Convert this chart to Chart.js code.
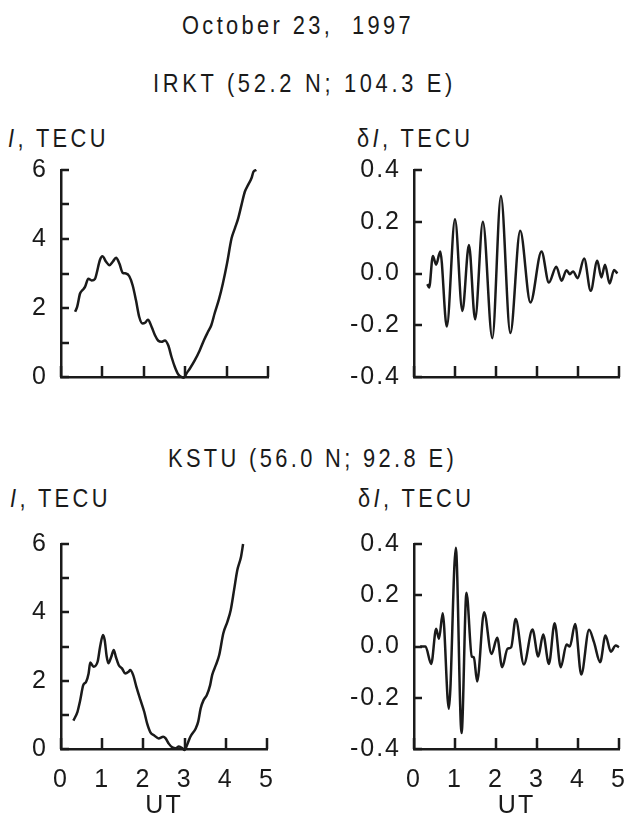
<!DOCTYPE html>
<html>
<head>
<meta charset="utf-8">
<script src="https://cdn.jsdelivr.net/npm/chart.js@4.4.0/dist/chart.umd.min.js"></script>
<style>
  body { margin: 0; background: #fff; }
  #page { position: relative; width: 624px; height: 817px; overflow: hidden;
          font-family: 'Liberation Sans', Arial, sans-serif; color: #1a1a1a; }
  .txt { position: absolute; font-size: 26px; line-height: 26px; letter-spacing: 4px; white-space: pre;
         transform: scaleX(0.84); transform-origin: 0 0; }
  .panel { position: absolute; }
  canvas { display: block; }
</style>
</head>
<body>
<div id="page">
  <div class="txt" style="left:182px; top:12px">October 23,  1997</div>
  <div class="txt" style="left:153px; top:70px; letter-spacing: 4.4px">IRKT (52.2 N; 104.3 E)</div>
  <div class="txt" style="left:8px; top:125px"><i>I</i>, TECU</div>
  <div class="txt" style="left:357px; top:125px">&delta;<i>I</i>, TECU</div>
  <div class="txt" style="left:168px; top:445px">KSTU (56.0 N; 92.8 E)</div>
  <div class="txt" style="left:10px; top:485px"><i>I</i>, TECU</div>
  <div class="txt" style="left:358px; top:485px">&delta;<i>I</i>, TECU</div>

  <div class="panel" style="left:0px; top:150px"><canvas id="irktTec" width="300" height="250"></canvas></div>
  <div class="panel" style="left:312px; top:150px"><canvas id="irktDelta" width="312" height="250"></canvas></div>
  <div class="panel" style="left:0px; top:520px"><canvas id="kstuTec" width="300" height="297"></canvas></div>
  <div class="panel" style="left:312px; top:520px"><canvas id="kstuDelta" width="312" height="297"></canvas></div>
</div>
<script>
// tick labels
const utLabels = ['0', '1', '2', '3', '4', '5'];
const tecLabels = ['0', '2', '4', '6'];
const deltaLabels = ['-0.4', '-0.2', '0.0', '0.2', '0.4'];

// IRKT, total electron content I
const irktUt = [0.34, 0.39, 0.46, 0.52, 0.58, 0.66, 0.74, 0.82, 0.86, 0.94, 1.0, 1.09, 1.17, 1.25, 1.33,
  1.41, 1.49, 1.57, 1.65, 1.73, 1.81, 1.89, 1.97, 2.03, 2.1, 2.19, 2.27, 2.35, 2.43, 2.51, 2.59, 2.67,
  2.75, 2.83, 2.91, 2.97, 3.03, 3.11, 3.23, 3.35, 3.45, 3.55, 3.63, 3.71, 3.82, 3.91, 4.01, 4.12, 4.2,
  4.28, 4.36, 4.44, 4.52, 4.6, 4.65, 4.72];
const irktTec = [1.89, 2.03, 2.42, 2.52, 2.61, 2.85, 2.8, 2.84, 3.0, 3.39, 3.5, 3.34, 3.24, 3.34, 3.46,
  3.29, 3.02, 3.0, 2.92, 2.66, 2.23, 1.74, 1.55, 1.57, 1.66, 1.45, 1.21, 1.05, 1.02, 1.06, 0.92, 0.58,
  0.29, 0.08, 0.0, -0.02, 0.1, 0.24, 0.48, 0.77, 1.06, 1.31, 1.5, 1.84, 2.27, 2.71, 3.29, 4.02, 4.31,
  4.6, 4.99, 5.37, 5.57, 5.76, 5.95, 6.0];

// IRKT, filtered variations dI
const irktDUt = [0.325, 0.37, 0.46, 0.54, 0.64, 0.8, 1.0, 1.18, 1.34, 1.49, 1.68, 1.91, 2.12, 2.35, 2.59,
  2.84, 3.11, 3.29, 3.47, 3.6, 3.72, 3.8, 3.88, 3.99, 4.15, 4.31, 4.47, 4.57, 4.66, 4.77, 4.88, 4.96];
const irktDelta = [-0.041, -0.054, 0.068, 0.034, 0.085, -0.205, 0.21, -0.145, 0.11, -0.177, 0.2, -0.25,
  0.3, -0.23, 0.165, -0.112, 0.085, -0.035, 0.026, -0.028, 0.013, -0.003, 0.008, -0.018, 0.058, -0.067,
  0.049, -0.015, 0.034, -0.039, 0.014, 0.0];

// KSTU, total electron content I
const kstuUt = [0.3, 0.4, 0.46, 0.54, 0.61, 0.67, 0.71, 0.79, 0.89, 0.95, 1.02, 1.06, 1.11, 1.15, 1.22,
  1.28, 1.33, 1.4, 1.48, 1.56, 1.64, 1.68, 1.75, 1.83, 1.93, 2.02, 2.09, 2.17, 2.27, 2.37, 2.48, 2.54,
  2.62, 2.7, 2.78, 2.86, 2.94, 3.0, 3.06, 3.14, 3.27, 3.33, 3.39, 3.46, 3.54, 3.62, 3.67, 3.76, 3.84,
  3.94, 4.04, 4.12, 4.2, 4.28, 4.37, 4.42];
const kstuTec = [0.83, 1.09, 1.39, 1.87, 1.97, 2.21, 2.53, 2.41, 2.56, 3.0, 3.34, 3.19, 2.7, 2.51, 2.7,
  2.9, 2.7, 2.46, 2.36, 2.21, 2.26, 2.31, 2.17, 1.82, 1.43, 1.09, 0.75, 0.49, 0.39, 0.31, 0.36, 0.31,
  0.15, 0.05, 0.02, 0.07, 0.03, -0.03, 0.12, 0.36, 0.6, 0.8, 1.19, 1.43, 1.58, 1.87, 2.17, 2.46, 2.75,
  3.39, 3.73, 4.07, 4.65, 5.24, 5.63, 6.0];

// KSTU, filtered variations dI
const kstuDUt = [0.15, 0.28, 0.42, 0.54, 0.61, 0.7, 0.85, 1.02, 1.16, 1.28, 1.41, 1.46, 1.54, 1.71, 1.89,
  2.03, 2.15, 2.28, 2.37, 2.48, 2.68, 2.89, 3.03, 3.15, 3.29, 3.43, 3.58, 3.72, 3.8, 3.93, 4.08, 4.27,
  4.39, 4.54, 4.67, 4.8, 4.92, 5.0];
const kstuDelta = [0.0, 0.0, -0.068, 0.069, 0.03, 0.13, -0.243, 0.385, -0.338, 0.21, -0.039, -0.042,
  -0.137, 0.134, -0.029, 0.034, -0.081, -0.009, -0.003, 0.107, -0.07, 0.066, -0.039, 0.047, -0.068,
  0.091, -0.081, 0.008, 0.0, 0.088, -0.109, 0.065, 0.017, -0.061, 0.043, -0.02, 0.004, -0.003];

const ink = '#1a1a1a';
const tickFont = { family: "'Liberation Sans', Arial, sans-serif", size: 25, lineHeight: 1 };

// ticks drawn inward, like the original figure
const inwardTicks = {
  id: 'inwardTicks',
  beforeDraw(chart) { chart.ctx.letterSpacing = '2px'; },
  afterDraw(chart) {
    const { ctx, chartArea } = chart;
    const xs = chart.scales.x, ys = chart.scales.y;
    ctx.save();
    ctx.strokeStyle = ink;
    ctx.lineWidth = 2.5;
    ctx.beginPath();
    xs.ticks.forEach(t => {
      const px = Math.round(xs.getPixelForValue(t.value));
      ctx.moveTo(px, chartArea.bottom);
      ctx.lineTo(px, chartArea.bottom - 11);
    });
    ys.ticks.forEach(t => {
      const py = Math.round(ys.getPixelForValue(t.value));
      ctx.moveTo(chartArea.left, py);
      ctx.lineTo(chartArea.left + 8, py);
    });
    ctx.stroke();
    ctx.restore();
  }
};

function makePanel(id, ut, values, cfg) {
  const points = ut.map((x, i) => ({ x, y: values[i] }));
  new Chart(document.getElementById(id), {
    type: 'line',
    data: {
      datasets: [{
        data: points,
        borderColor: ink,
        borderWidth: 2.5,
        pointRadius: 0,
        fill: false,
        cubicInterpolationMode: 'monotone',
        clip: false
      }]
    },
    plugins: [inwardTicks],
    options: {
      responsive: false,
      animation: false,
      events: [],
      layout: { padding: { top: cfg.top, right: cfg.right, left: 0, bottom: 0 } },
      plugins: { legend: { display: false }, tooltip: { enabled: false } },
      scales: {
        x: {
          type: 'linear',
          min: 0,
          max: 5,
          grid: { display: false },
          border: { display: true, color: ink, width: 2.5 },
          ticks: {
            stepSize: 1,
            padding: 11,
            color: ink,
            font: tickFont,
            maxRotation: 0,
            callback: v => cfg.xLabels ? (utLabels[Math.round(v)] || '') : ''
          },
          title: {
            display: !!cfg.xLabels,
            text: 'UT',
            color: ink,
            font: { ...tickFont, lineHeight: 0.85 },
            padding: 0
          },
          afterFit: s => { s.height = cfg.xHeight; s.paddingLeft = 0; s.paddingRight = 0; }
        },
        y: {
          min: cfg.yMin,
          max: cfg.yMax,
          grid: { display: false },
          border: { display: true, color: ink, width: 2.5 },
          ticks: {
            stepSize: cfg.yStep,
            padding: 5,
            color: ink,
            font: tickFont,
            callback: cfg.yLabel
          },
          afterFit: s => { s.width = cfg.yWidth; s.paddingTop = 0; s.paddingBottom = 0; }
        }
      }
    }
  });
}

const tecLabel = v => { const s = String(Math.round(v)); return tecLabels.includes(s) ? s : ''; };
const deltaLabel = v => { const s = (Math.round(v * 10) / 10).toFixed(1); return deltaLabels.includes(s) ? s : ''; };

makePanel('irktTec', irktUt, irktTec,
  { top: 20, right: 32, xHeight: 23, yWidth: 61, yMin: 0, yMax: 6, yStep: 1, yLabel: tecLabel, xLabels: false });
makePanel('irktDelta', irktDUt, irktDelta,
  { top: 20, right: 5, xHeight: 23, yWidth: 102, yMin: -0.4, yMax: 0.4, yStep: 0.1, yLabel: deltaLabel, xLabels: false });
makePanel('kstuTec', kstuUt, kstuTec,
  { top: 24, right: 33, xHeight: 68, yWidth: 61, yMin: 0, yMax: 6, yStep: 1, yLabel: tecLabel, xLabels: true });
makePanel('kstuDelta', kstuDUt, kstuDelta,
  { top: 24, right: 5, xHeight: 68, yWidth: 102, yMin: -0.4, yMax: 0.4, yStep: 0.1, yLabel: deltaLabel, xLabels: true });
</script>
</body>
</html>
